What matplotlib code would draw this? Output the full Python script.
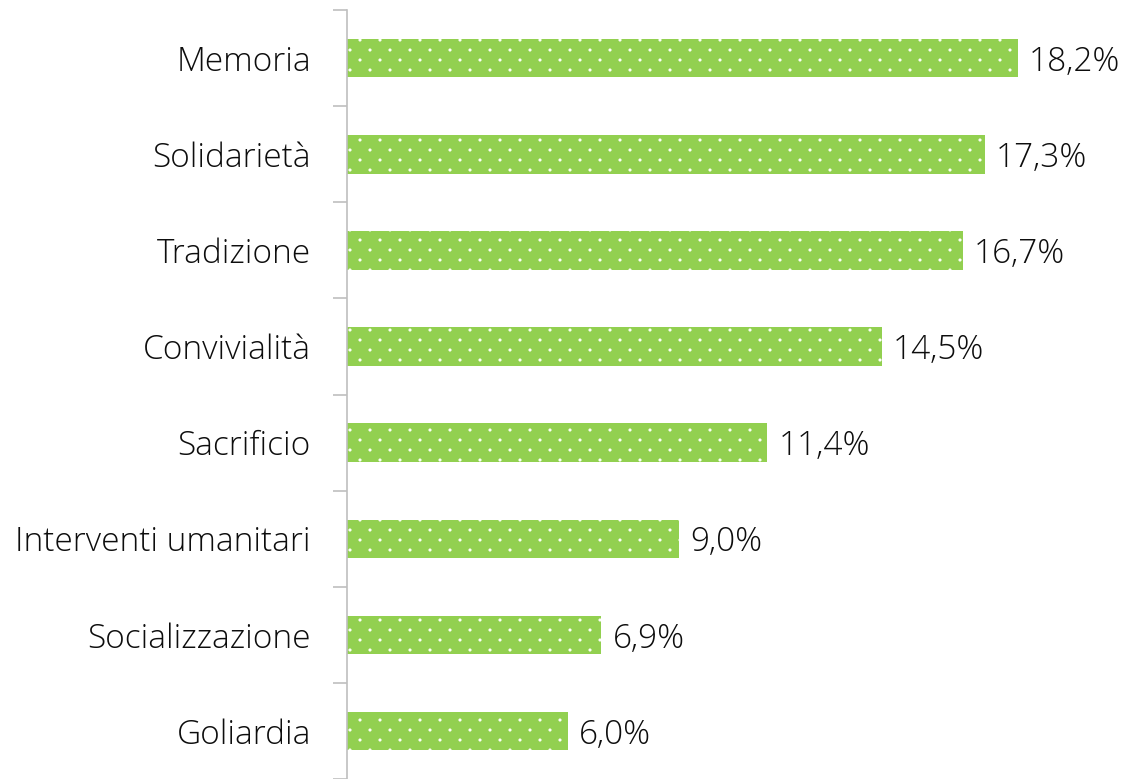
import matplotlib
matplotlib.use('Agg')
import matplotlib.pyplot as plt
import matplotlib.hatch as mhatch
from matplotlib.path import Path
import numpy as np

plt.rcParams['font.family'] = ['Open Sans', 'DejaVu Sans']
plt.rcParams['hatch.linewidth'] = 0.8

# dati (dal basso verso l'alto)
categorie = ['Goliardia', 'Socializzazione', 'Interventi umanitari', 'Sacrificio',
             'Convivialità', 'Tradizione', 'Solidarietà', 'Memoria']
valori = [6.0, 6.9, 9.0, 11.4, 14.5, 16.7, 17.3, 18.2]
etichette = ['6,0%', '6,9%', '9,0%', '11,4%', '14,5%', '16,7%', '17,3%', '18,2%']


# motivo a punti radi e sfalsati (come il riempimento "5%" di Excel)
class PuntiSfalsati(mhatch.HatchPatternBase):
    def __init__(self, hatch, density):
        self.righe = 10 if '.' in hatch else 0
        cerchio = Path.unit_circle()
        self.forma_v = cerchio.vertices
        self.forma_c = cerchio.codes
        n_punti = (self.righe // 2 + 1) * 6 + (self.righe // 2) * 5
        self.num_vertices = n_punti * len(self.forma_v) if self.righe else 0

    def set_vertices_and_codes(self, vertices, codes):
        passo = 1.0 / self.righe
        parti_v, parti_c = [], []
        for riga in range(self.righe + 1):
            cols = np.linspace(0, 1, 6) if riga % 2 == 0 else np.linspace(0.1, 0.9, 5)
            for c in cols:
                parti_v.append(self.forma_v * 0.01 + [c, riga * passo])
                parti_c.append(self.forma_c)
        np.concatenate(parti_v, out=vertices)
        np.concatenate(parti_c, out=codes)


mhatch._hatch_types = [t for t in mhatch._hatch_types
                       if t is not mhatch.SmallFilledCircles] + [PuntiSfalsati]

fig = plt.figure(figsize=(11.23, 7.79), dpi=100)
ax = fig.add_axes([0.309, 0.0, 0.691, 0.987])

y = np.arange(len(categorie))
ax.barh(y, valori, height=0.4, facecolor='#92D050', edgecolor='white', linewidth=0,
        hatch='.')

for yi, v, t in zip(y, valori, etichette):
    ax.text(v + 0.3, yi, t, va='center_baseline', ha='left', fontsize=24,
            fontweight='light', color='#0d0d0d')

ax.set_xlim(0, 21.05)
ax.set_ylim(-0.5, len(categorie) - 0.5)
ax.set_yticks(y)
ax.set_yticklabels(categorie, fontsize=24, fontweight='light', color='#0d0d0d')
ax.tick_params(axis='y', which='major', length=0, pad=26)
ax.set_yticks(np.arange(-0.5, len(categorie), 1), minor=True)
ax.tick_params(axis='y', which='minor', length=10, width=1.2, color='#BFBFBF')
ax.set_xticks([])

for s in ['top', 'right', 'bottom']:
    ax.spines[s].set_visible(False)
ax.spines['left'].set_color('#BFBFBF')
ax.spines['left'].set_linewidth(1.2)

fig.savefig('out.png', dpi=100)
